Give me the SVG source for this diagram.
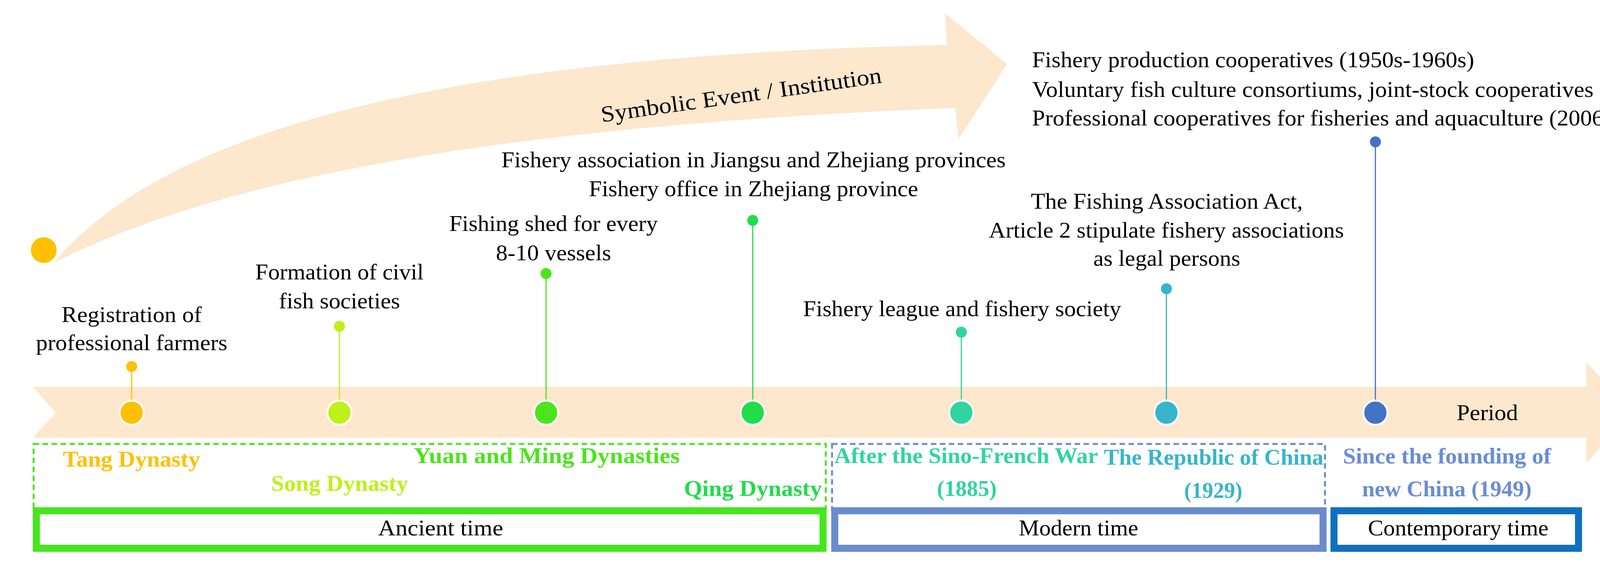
<svg xmlns="http://www.w3.org/2000/svg" width="4332" height="1456" viewBox="0 0 4332 1456">
<style>
text{font-family:"Liberation Serif","Times New Roman",serif;}
.ev{font-size:58px;fill:#000;}
.lab{font-size:56px;font-weight:bold;}
.per{font-size:56px;fill:#000;}
.big{stroke:#fff;stroke-width:5;}
.stem{stroke-width:3;fill:none;}
</style>
<rect width="4332" height="1456" fill="#fff"/>
<g id="timeline-band">
<path d="M84,990 L4061,990 L4061,927 L4181,1056 L4061,1184 L4061,1120 L84,1120 L143,1056 Z" fill="#FDE7CD"/>
<text class="per" x="3729" y="1075" textLength="157" lengthAdjust="spacingAndGlyphs">Period</text>
</g>
<g id="curved-arrow">
<path d="M138,672 C450,300 1250,140 2425,115 L2419,34 L2578,164 L2454,356 L2445,276 C1350,320 600,440 138,672 Z" fill="#FDE7CD"/>
<circle cx="112" cy="640" r="33" fill="#FFC000"/>
<text x="1900" y="262" font-size="58" text-anchor="middle" transform="rotate(-8 1900 262)" textLength="725" lengthAdjust="spacingAndGlyphs">Symbolic Event / Institution</text>
</g>
<g id="connectors">
<line class="stem" x1="337" y1="938" x2="337" y2="1056" stroke="#FFC000"/>
<line class="stem" x1="869" y1="835" x2="869" y2="1056" stroke="#C0F01A"/>
<line class="stem" x1="1398" y1="700" x2="1398" y2="1056" stroke="#4CE41C"/>
<line class="stem" x1="1927" y1="564" x2="1927" y2="1056" stroke="#22DC4A"/>
<line class="stem" x1="2461" y1="850" x2="2461" y2="1056" stroke="#30D4A0"/>
<line class="stem" x1="2986" y1="739" x2="2986" y2="1056" stroke="#38B4CC"/>
<line class="stem" x1="3521" y1="363" x2="3521" y2="1056" stroke="#4472C4"/>
</g>
<g id="tang">
<circle cx="337" cy="938" r="14" fill="#FFC000"/>
<circle class="big" cx="337" cy="1056" r="31" fill="#FFC000"/>
<text class="ev" x="337" y="824" text-anchor="middle" textLength="359" lengthAdjust="spacingAndGlyphs">Registration of</text>
<text class="ev" x="337" y="896" text-anchor="middle" textLength="490" lengthAdjust="spacingAndGlyphs">professional farmers</text>
<text class="lab" x="161" y="1194" fill="#FFC000" textLength="351" lengthAdjust="spacingAndGlyphs">Tang Dynasty</text>
</g>
<g id="song">
<circle cx="869" cy="835" r="14" fill="#C0F01A"/>
<circle class="big" cx="869" cy="1056" r="31" fill="#C0F01A"/>
<text class="ev" x="869" y="715" text-anchor="middle" textLength="431" lengthAdjust="spacingAndGlyphs">Formation of civil</text>
<text class="ev" x="869" y="789" text-anchor="middle" textLength="310" lengthAdjust="spacingAndGlyphs">fish societies</text>
<text class="lab" x="694" y="1256" fill="#C0F01A" textLength="351" lengthAdjust="spacingAndGlyphs">Song  Dynasty</text>
</g>
<g id="yuan-ming">
<circle cx="1398" cy="700" r="14" fill="#4CE41C"/>
<circle class="big" cx="1398" cy="1056" r="31" fill="#4CE41C"/>
<text class="ev" x="1417" y="591" text-anchor="middle" textLength="534" lengthAdjust="spacingAndGlyphs">Fishing shed for every</text>
<text class="ev" x="1417" y="666" text-anchor="middle" textLength="295" lengthAdjust="spacingAndGlyphs">8-10 vessels</text>
<text class="lab" x="1059" y="1185" fill="#4CE41C" textLength="681" lengthAdjust="spacingAndGlyphs">Yuan  and  Ming  Dynasties</text>
</g>
<g id="qing">
<circle cx="1927" cy="564" r="14" fill="#22DC4A"/>
<circle class="big" cx="1927" cy="1056" r="31" fill="#22DC4A"/>
<text class="ev" x="1929" y="428" text-anchor="middle" textLength="1291" lengthAdjust="spacingAndGlyphs">Fishery association in Jiangsu and Zhejiang provinces</text>
<text class="ev" x="1929" y="502" text-anchor="middle" textLength="843" lengthAdjust="spacingAndGlyphs">Fishery office in Zhejiang province</text>
<text class="lab" x="1751" y="1269" fill="#22DC4A" textLength="353" lengthAdjust="spacingAndGlyphs">Qing  Dynasty</text>
</g>
<g id="sino-french">
<circle cx="2461" cy="850" r="14" fill="#30D4A0"/>
<circle class="big" cx="2461" cy="1056" r="31" fill="#30D4A0"/>
<text class="ev" x="2463" y="809" text-anchor="middle" textLength="814" lengthAdjust="spacingAndGlyphs">Fishery league and fishery society</text>
<text class="lab" x="2136" y="1185" fill="#30D4A0" textLength="675" lengthAdjust="spacingAndGlyphs">After the Sino-French War</text>
<text class="lab" x="2475" y="1269" fill="#30D4A0" text-anchor="middle" textLength="153" lengthAdjust="spacingAndGlyphs">(1885)</text>
</g>
<g id="republic">
<circle cx="2986" cy="739" r="14" fill="#38B4CC"/>
<circle class="big" cx="2986" cy="1056" r="31" fill="#38B4CC"/>
<text class="ev" x="2987" y="534" text-anchor="middle" textLength="696" lengthAdjust="spacingAndGlyphs">The Fishing Association Act,</text>
<text class="ev" x="2986" y="608" text-anchor="middle" textLength="909" lengthAdjust="spacingAndGlyphs">Article 2 stipulate fishery associations</text>
<text class="ev" x="2987" y="680" text-anchor="middle" textLength="376" lengthAdjust="spacingAndGlyphs">as legal persons</text>
<text class="lab" x="2826" y="1189" fill="#38B4CC" textLength="562" lengthAdjust="spacingAndGlyphs">The Republic of China</text>
<text class="lab" x="3106" y="1274" fill="#38B4CC" text-anchor="middle" textLength="149" lengthAdjust="spacingAndGlyphs">(1929)</text>
</g>
<g id="new-china">
<circle cx="3521" cy="363" r="14" fill="#4472C4"/>
<circle class="big" cx="3521" cy="1056" r="31" fill="#4472C4"/>
<text class="ev" x="2642" y="172" textLength="1132" lengthAdjust="spacingAndGlyphs">Fishery production cooperatives (1950s-1960s)</text>
<text class="ev" x="2642" y="248" textLength="1636" lengthAdjust="spacingAndGlyphs">Voluntary fish culture consortiums, joint-stock cooperatives (1980s)</text>
<text class="ev" x="2642" y="321" textLength="1503" lengthAdjust="spacingAndGlyphs">Professional cooperatives for fisheries and aquaculture (2006-)</text>
<text class="lab" x="3438" y="1186" fill="#6A8CD6" textLength="533" lengthAdjust="spacingAndGlyphs">Since the founding of</text>
<text class="lab" x="3487" y="1270" fill="#6A8CD6" textLength="434" lengthAdjust="spacingAndGlyphs">new China (1949)</text>
</g>
<g id="ancient-period">
<rect x="86" y="1136" width="2028" height="170" fill="none" stroke="#4CE41C" stroke-width="5" stroke-dasharray="14,9"/>
<rect x="93" y="1307" width="2014" height="96" fill="#fff" stroke="#46E61E" stroke-width="18"/>
<text class="per" x="1128" y="1370" text-anchor="middle" textLength="320" lengthAdjust="spacingAndGlyphs">Ancient  time</text>
</g>
<g id="modern-period">
<rect x="2130" y="1136" width="1262" height="170" fill="none" stroke="#6A8CCD" stroke-width="5" stroke-dasharray="14,9"/>
<rect x="2137" y="1307" width="1250" height="96" fill="#fff" stroke="#6A8CCD" stroke-width="18"/>
<text class="per" x="2761" y="1370" text-anchor="middle" textLength="306" lengthAdjust="spacingAndGlyphs">Modern time</text>
</g>
<g id="contemporary-period">
<rect x="3415" y="1307" width="626" height="96" fill="#fff" stroke="#1070C0" stroke-width="18"/>
<text class="per" x="3733" y="1370" text-anchor="middle" textLength="462" lengthAdjust="spacingAndGlyphs">Contemporary time</text>
</g>
</svg>
